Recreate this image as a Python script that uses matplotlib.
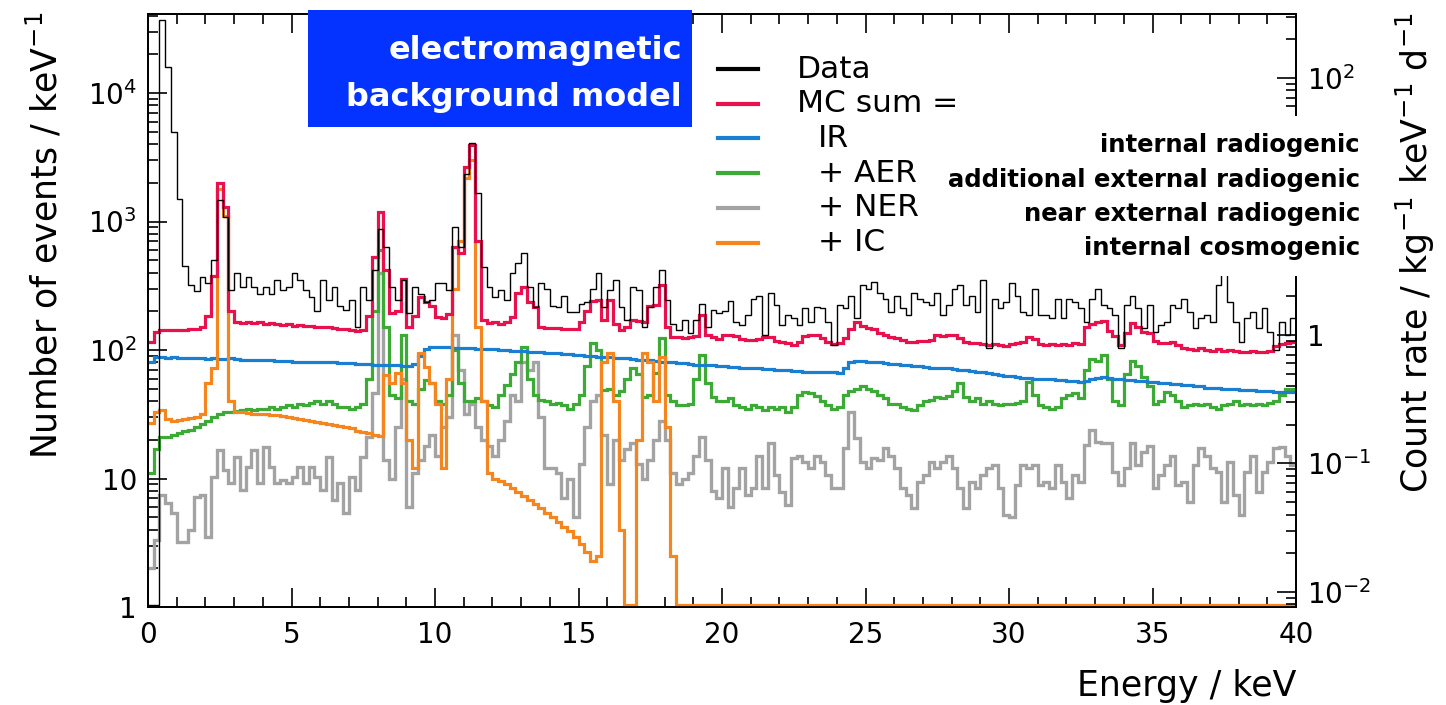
import numpy as np
import matplotlib
matplotlib.use("Agg")
import matplotlib.pyplot as plt
from matplotlib.patches import Rectangle
from matplotlib.lines import Line2D
from matplotlib.ticker import FixedLocator, FuncFormatter, LogLocator, NullFormatter, MultipleLocator

plt.rcParams['font.family'] = ['DejaVu Sans']
plt.rcParams['mathtext.fontset'] = 'dejavusans'
plt.rcParams['axes.unicode_minus'] = False

BIN_WIDTH = 0.2  # keV

data = [0, 0, 37000, 16000, 5000, 1500, 450, 320, 290, 370,
        330, 500, 1470, 1090, 295, 395, 310, 370, 310, 275,
        310, 275, 350, 295, 310, 395, 350, 295, 260, 200,
        350, 245, 310, 220, 205, 245, 150, 310, 245, 420,
        880, 630, 310, 245, 350, 195, 310, 275, 235, 245,
        330, 330, 295, 910, 630, 2350, 4100, 1660, 440, 310,
        260, 295, 245, 395, 475, 570, 310, 215, 330, 300,
        220, 215, 265, 198, 198, 230, 235, 300, 395, 215,
        295, 350, 215, 170, 310, 295, 150, 215, 310, 420,
        245, 160, 143, 170, 135, 170, 230, 150, 205, 195,
        200, 240, 165, 157, 188, 250, 265, 131, 280, 225,
        157, 188, 178, 157, 212, 165, 215, 212, 165, 109,
        225, 212, 265, 178, 320, 300, 340, 280, 250, 198,
        265, 212, 188, 280, 250, 235, 225, 280, 188, 225,
        300, 320, 225, 265, 198, 350, 104, 250, 212, 235,
        330, 265, 198, 188, 300, 188, 188, 178, 250, 178,
        250, 235, 212, 165, 250, 300, 225, 212, 188, 104,
        225, 265, 212, 148, 225, 138, 157, 165, 225, 212,
        250, 198, 148, 178, 188, 165, 320, 450, 235, 165,
        115, 178, 198, 148, 212, 138, 100, 165, 131, 178]

mc_sum = [115, 138, 142, 143, 142, 143, 144, 145, 147, 150,
          185, 380, 2000, 1300, 200, 165, 163, 165, 162, 164,
          160, 162, 158, 157, 158, 155, 156, 153, 154, 151,
          150, 151, 148, 147, 145, 143, 140, 142, 185, 530,
          1190, 420, 195, 200, 360, 150, 185, 260, 235, 220,
          180, 178, 190, 630, 570, 2660, 3940, 700, 170, 163,
          165, 160, 165, 180, 280, 310, 235, 215, 150, 148,
          148, 148, 146, 146, 147, 165, 200, 240, 245, 170,
          245, 160, 143, 150, 170, 168, 165, 220, 225, 320,
          150, 126, 126, 125, 127, 128, 188, 130, 126, 122,
          131, 131, 128, 122, 120, 120, 121, 126, 126, 118,
          115, 114, 110, 115, 128, 131, 130, 125, 115, 112,
          113, 125, 145, 165, 155, 148, 145, 135, 130, 126,
          124, 120, 116, 115, 117, 118, 120, 130, 128, 131,
          132, 125, 116, 113, 114, 112, 110, 112, 109, 108,
          112, 114, 116, 126, 122, 112, 110, 111, 109, 112,
          110, 113, 112, 150, 160, 165, 168, 140, 128, 109,
          135, 163, 150, 138, 135, 118, 114, 113, 115, 110,
          104, 102, 100, 103, 100, 98, 101, 99, 100, 98,
          97, 96, 99, 97, 96, 98, 108, 112, 114, 116]

ir = [80, 88, 88, 87, 88, 87, 87, 86, 86, 86,
      85, 86, 85, 85, 86, 85, 84, 84, 84, 83,
      83, 83, 82, 82, 82, 81, 81, 81, 80, 80,
      80, 80, 80, 79, 79, 79, 78, 78, 78, 77,
      77, 76, 76, 76, 75, 75, 78, 90, 102, 105,
      106, 105, 105, 104, 104, 103, 103, 102, 102, 101,
      101, 100, 100, 99, 98, 98, 97, 96, 96, 95,
      95, 94, 93, 93, 92, 91, 90, 90, 89, 88,
      88, 87, 86, 86, 85, 84, 83, 83, 82, 81,
      80, 80, 79, 79, 78, 77, 77, 76, 76, 75,
      75, 74, 74, 73, 73, 72, 72, 71, 71, 70,
      70, 70, 69, 69, 68, 68, 68, 67, 67, 67,
      66, 72, 80, 82, 82, 81, 80, 80, 79, 78,
      78, 77, 76, 75, 75, 74, 73, 73, 72, 72,
      71, 70, 70, 69, 68, 67, 66, 65, 64, 63,
      63, 62, 61, 61, 60, 60, 59, 59, 58, 58,
      57, 57, 56, 57, 59, 61, 62, 61, 60, 59,
      58, 58, 57, 57, 56, 56, 55, 55, 54, 54,
      53, 53, 52, 52, 51, 51, 51, 50, 50, 50,
      49, 49, 49, 48, 48, 48, 47, 47, 47, 47]

aer = [11, 17, 21, 21, 22, 22.5, 23.5, 24, 25, 26.5,
       28, 30, 32, 33, 33, 33.5, 34, 35, 34, 35,
       35, 36, 35, 36, 37, 36, 38, 37, 39, 40,
       38, 40, 38, 36, 36, 35, 36, 38, 60, 200,
       600, 150, 45, 42, 130, 40, 38, 50, 58, 55,
       40, 38, 45, 100, 55, 40, 40, 42, 40, 37,
       36, 45, 53, 65, 80, 105, 60, 45, 41, 40,
       38, 39, 37, 35, 38, 45, 75, 113, 100, 49,
       50, 45, 48, 60, 72, 65, 43, 45, 66, 124,
       45, 40, 37, 37, 38, 60, 91, 55, 43, 40,
       40, 42, 37, 36, 35, 37, 36, 34, 36, 35,
       36, 33, 36, 45, 47, 46, 44, 40, 37, 35,
       36, 45, 48, 50, 52, 50, 48, 45, 42, 38,
       38, 36, 35, 34, 37, 40, 41, 43, 42, 44,
       48, 55, 43, 40, 42, 38, 40, 38, 37, 38,
       38, 39, 40, 56, 45, 37, 36, 35, 36, 42,
       45, 46, 42, 70, 85, 82, 92, 60, 40, 37,
       65, 82, 75, 62, 52, 38, 40, 47, 45, 40,
       36, 37, 38, 37, 38, 36, 35, 37, 38, 40,
       37, 38, 37, 38, 37, 39, 40, 45, 50, 50]

ner = [2.0, 3.3, 7.5, 6.4, 5.4, 3.2, 3.2, 4.0, 7.2, 7.4,
       3.5, 10.3, 16.6, 11.6, 9.2, 14.7, 8.1, 12.3, 16.6, 9.2,
       17.6, 12.3, 9.2, 9.7, 9.2, 10.3, 12.3, 9.2, 12.3, 10.3,
       8.1, 14.7, 6.8, 9.2, 5.4, 10.3, 8.1, 14.7, 21, 46,
       400, 14, 10, 25, 60, 6, 11, 14, 18, 22,
       15, 25, 30, 130, 70, 32, 38, 25, 20, 18,
       15, 20, 28, 45, 40, 80, 70, 80, 30, 12,
       12, 11, 7, 10, 5, 13, 25, 40, 45, 22,
       9, 20, 14, 17, 19, 13, 10, 14, 20, 28,
       20, 11, 9, 10, 11, 15, 21, 14, 8, 7,
       12, 6, 8.4, 12, 7.4, 8.4, 15, 8.4, 19, 10.6,
       7.9, 6.2, 14.4, 15, 13.5, 12, 15, 13.5, 10.6, 8.4,
       8.4, 17.3, 33, 20.7, 13.5, 12, 14.4, 14, 17.3, 15,
       12, 8.4, 7.4, 5.9, 9.4, 10.6, 13.5, 12, 13.5, 15,
       12, 8.4, 5.9, 9.4, 8.4, 10.6, 12, 12.7, 8.4, 5.2,
       5, 8.9, 12.7, 12, 12.7, 8.9, 9.4, 8.4, 12.7, 9.4,
       7, 10.6, 9.4, 18.2, 23.8, 19.2, 19, 19, 11.2, 8.9,
       12, 19, 12.7, 16, 18, 8.4, 10.6, 12.7, 15, 8.9,
       9.4, 6.6, 12.7, 17.3, 15, 12, 11.2, 6.6, 13.5, 7.4,
       5.2, 11.2, 15, 7.9, 11.2, 13.5, 17.3, 17.5, 15, 12.7]

ic = [27, 33, 34, 29, 28, 28.5, 29, 29.5, 30, 32,
      55, 72, 1800, 1100, 40, 33, 33, 32.5, 32, 32,
      31.5, 31, 31, 30.5, 30, 29.5, 29, 28.5, 28, 27.5,
      27, 26.5, 26, 25.5, 25, 24.5, 23.5, 23, 22.5, 22,
      21.5, 64, 55, 66, 55, 20, 12, 95, 74, 55,
      38, 12, 60, 300, 700, 2200, 3000, 150, 40, 11,
      10, 9.5, 9.0, 8.4, 7.9, 7.3, 6.8, 6.3, 5.9, 5.4,
      5.0, 4.6, 4.2, 3.9, 3.5, 3.1, 2.7, 2.3, 2.5, 80,
      95, 40, 4, 0.8, 0, 20, 95, 80, 40, 88,
      25, 2.5] + [0] * 108

x_ticks = [0, 5, 10, 15, 20, 25, 30, 35, 40]
legend_labels = ["Data", "MC sum =", "IR", "+ AER", "+ NER", "+ IC"]
descriptions = ["internal radiogenic", "additional external radiogenic",
                "near external radiogenic", "internal cosmogenic"]
RATE_FACTOR = 131.0  # events / keV  ->  counts / (kg keV d)

colors = {"data": "black", "mc": "#e8114d", "ir": "#1a7fd0",
          "aer": "#3daa38", "ner": "#a3a3a3", "ic": "#f5861f"}

W, H = 1446, 705
fig = plt.figure(figsize=(W / 100, H / 100), dpi=100)
ax = fig.add_axes([148 / W, 1 - 607 / H, (1296 - 148) / W, (607 - 14) / H])

YMIN, YMAX = 1.0, 41200.0
FLOOR = 1.035   # empty bins are drawn just above the lower frame, as in ROOT
edges = np.arange(len(data) + 1) * BIN_WIDTH


def draw(vals, color, lw, z):
    v = np.clip(np.asarray(vals, dtype=float), FLOOR, None)
    ax.stairs(v, edges, baseline=None, color=color, lw=lw, zorder=z)


draw(ner, colors["ner"], 2.4, 2)
draw(aer, colors["aer"], 2.3, 3)
draw(ir, colors["ir"], 2.3, 4)
draw(ic, colors["ic"], 2.3, 5)
draw(mc_sum, colors["mc"], 2.3, 6)
draw(data, colors["data"], 1.0, 7)

ax.set_xlim(0, 40)
ax.set_yscale("log")
ax.set_ylim(YMIN, YMAX)


def logfmt(v, pos):
    e = int(round(np.log10(v)))
    if e == 0:
        return "1"
    if e == 1:
        return "10"
    return r"$\mathregular{10^{%d}}$" % e


def logfmt_right(v, pos):
    e = int(round(np.log10(v)))
    if e == 1:
        return ""   # hidden behind the description box in the reference
    return logfmt(v, pos)


ax.xaxis.set_major_locator(FixedLocator(x_ticks))
ax.xaxis.set_minor_locator(MultipleLocator(1))
ax.yaxis.set_major_locator(LogLocator(base=10, numticks=10))
ax.yaxis.set_minor_locator(LogLocator(base=10, subs=np.arange(2, 10), numticks=20))
ax.yaxis.set_major_formatter(FuncFormatter(logfmt))
ax.yaxis.set_minor_formatter(NullFormatter())
ax.tick_params(axis="x", which="both", direction="in", top=True, bottom=True,
               labelsize=20, pad=10)
ax.tick_params(axis="y", which="both", direction="in", left=True, right=False,
               labelsize=20, pad=8)
ax.tick_params(which="major", length=14, width=1.2)
ax.tick_params(which="minor", length=7, width=1.2)
for s in ax.spines.values():
    s.set_linewidth(1.3)

ax2 = ax.twinx()
ax2.set_yscale("log")
ax2.set_ylim(YMIN / RATE_FACTOR, YMAX / RATE_FACTOR)
ax2.yaxis.set_major_locator(LogLocator(base=10, numticks=10))
ax2.yaxis.set_minor_locator(LogLocator(base=10, subs=np.arange(2, 10), numticks=20))
ax2.yaxis.set_major_formatter(FuncFormatter(logfmt_right))
ax2.yaxis.set_minor_formatter(NullFormatter())
ax2.tick_params(axis="y", which="both", direction="in", left=False, right=True,
                labelsize=20, pad=8)
ax2.tick_params(which="major", length=14, width=1.2)
ax2.tick_params(which="minor", length=7, width=1.2)
for s in ax2.spines.values():
    s.set_linewidth(1.3)

# axis titles
fig.text(1296 / W, 1 - 686 / H, "Energy / keV", ha="right", va="center", fontsize=25)
fig.text(45 / W, 1 - 12 / H, r"Number of events / keV$^{-1}$", rotation=90,
         ha="center", va="top", fontsize=25)
fig.text(1415 / W, 1 - 12 / H, r"Count rate / kg$^{-1}$ keV$^{-1}$ d$^{-1}$",
         rotation=90, ha="center", va="top", fontsize=25)

# blue label box
fig.patches.append(Rectangle((308 / W, 1 - 127 / H), 384 / W, 117 / H,
                             transform=fig.transFigure, facecolor="#0433ff",
                             edgecolor="none", zorder=1))
fig.text(682 / W, 1 - 59 / H, "electromagnetic", ha="right", va="baseline",
         color="white", fontweight="bold", fontsize=23, zorder=3)
fig.text(682 / W, 1 - 106 / H, "background model", ha="right", va="baseline",
         color="white", fontweight="bold", fontsize=23, zorder=3)

# white box behind the descriptions
fig.patches.append(Rectangle((935 / W, 1 - 276 / H), 430 / W, 160 / H,
                             transform=fig.transFigure, facecolor="white",
                             edgecolor="none", zorder=1))

# legend
leg_colors = [colors["data"], colors["mc"], colors["ir"], colors["aer"],
              colors["ner"], colors["ic"]]
leg_y = [69, 103.7, 138.4, 173, 207.8, 242.5]
leg_x = [797, 797, 818, 818, 818, 818]
for lab, c, yy, xx in zip(legend_labels, leg_colors, leg_y, leg_x):
    fig.add_artist(Line2D([718 / W, 758 / W], [1 - yy / H, 1 - yy / H],
                          transform=fig.transFigure, color=c, lw=3, zorder=3))
    fig.text(xx / W, 1 - yy / H, lab, ha="left", va="center", fontsize=22.5, zorder=3)

desc_y = [145, 180, 214, 248]
for d, yy in zip(descriptions, desc_y):
    fig.text(1360 / W, 1 - yy / H, d, ha="right", va="center", fontsize=17.5,
             fontweight="bold", zorder=3)

fig.savefig("out.png", dpi=100)
